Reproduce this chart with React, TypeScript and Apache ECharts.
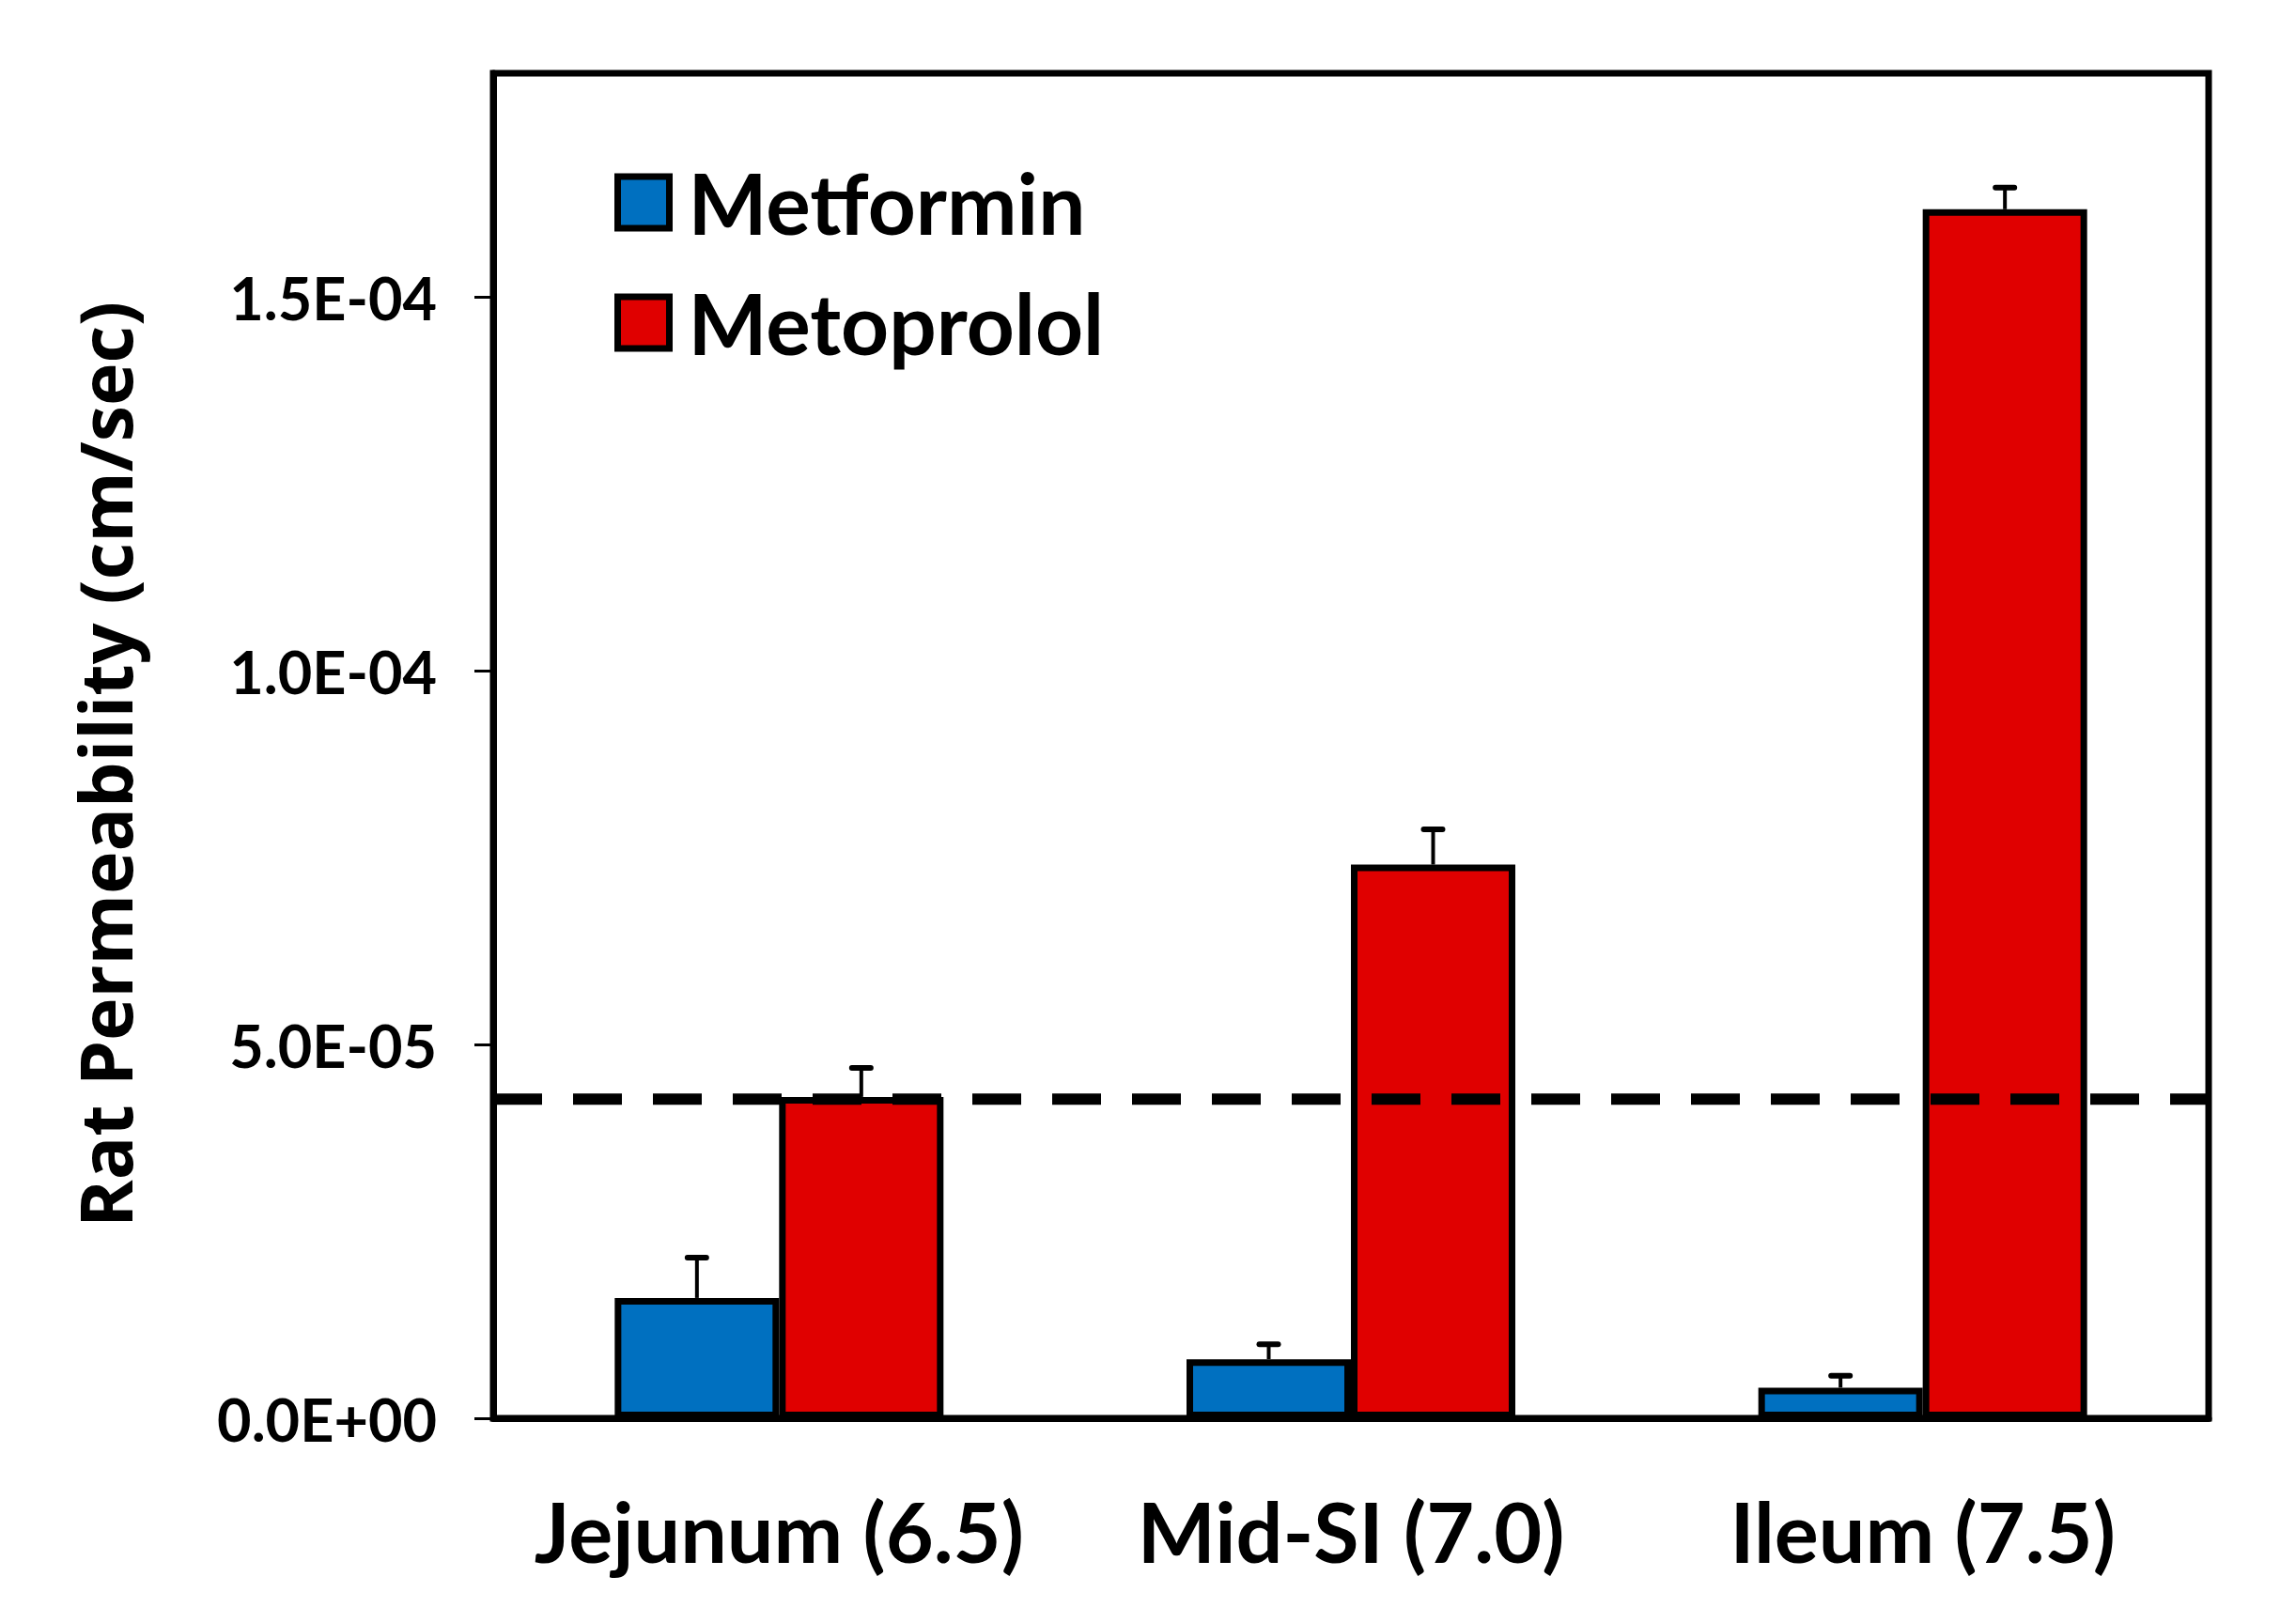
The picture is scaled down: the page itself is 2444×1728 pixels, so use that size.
import React, { useEffect, useRef } from "react";
import * as echarts from "echarts";

const categories = ["Jejunum (6.5)", "Mid-SI (7.0)", "Ileum (7.5)"];
const seriesNames = ["Metformin", "Metoprolol"];
const metforminValues = [1.61e-5, 0.79e-5, 0.41e-5];
const metforminErrors = [0.54e-5, 0.2e-5, 0.16e-5];
const metoprololValues = [4.3e-5, 7.41e-5, 16.18e-5];
const metoprololErrors = [0.39e-5, 0.47e-5, 0.29e-5];
const thresholdValue = 4.27e-5;
const yTicks = [0, 5e-5, 1e-4, 1.5e-4];
const yTitle = "Rat Permeability (cm/sec)";

const BLUE = "#0070C0";
const RED = "#E00000";
const CAT_GAP = 0.425;

function fmtExp(v: number): string {
  if (Math.abs(v) < 1e-12) return "0.0E+00";
  const s = v.toExponential(1).toUpperCase();
  const [m, e] = s.split("E");
  const n = parseInt(e, 10);
  const sign = n < 0 ? "-" : "+";
  const abs = Math.abs(n);
  return m + "E" + sign + (abs < 10 ? "0" + abs : String(abs));
}

function errorSeries(name: string, values: number[], errors: number[], side: number) {
  return {
    type: "custom",
    name: name + " error",
    z: 6,
    data: values.map((v, i) => [i, v, errors[i]]),
    encode: { x: 0, y: 1 },
    renderItem: (params: any, api: any) => {
      const idx = api.value(0);
      const v = api.value(1);
      const e = api.value(2);
      const band = api.size([1, 0])[0];
      const bw = (band * (1 - CAT_GAP)) / 2;
      const cx = api.coord([idx, v])[0] + (side * bw) / 2;
      const y1 = api.coord([idx, v])[1];
      const y2 = api.coord([idx, v + e])[1];
      const capHalf = 10;
      return {
        type: "group",
        children: [
          {
            type: "line",
            shape: { x1: cx, y1: y1, x2: cx, y2: y2 },
            style: { stroke: "#000", lineWidth: 4 },
          },
          {
            type: "line",
            shape: { x1: cx - capHalf, y1: y2, x2: cx + capHalf, y2: y2 },
            style: { stroke: "#000", lineWidth: 6, lineCap: "round" },
          },
        ],
      };
    },
  };
}

export default function App() {
  const ref = useRef<HTMLDivElement>(null);
  useEffect(() => {
    if (!ref.current) return;
    const chart = echarts.init(ref.current, null, { renderer: "svg" });
    chart.setOption({
      animation: false,
      backgroundColor: "#ffffff",
      grid: {
        left: 525,
        right: 93,
        top: 78,
        bottom: 218,
        show: true,
        borderColor: "#000",
        borderWidth: 7,
        backgroundColor: "transparent",
      },
      legend: {
        data: seriesNames,
        orient: "vertical",
        left: 649,
        top: 166,
        itemWidth: 55,
        itemHeight: 55,
        itemGap: 39,
        icon: "rect",
        itemStyle: { borderColor: "#000", borderWidth: 7 },
        textStyle: {
          fontFamily: "Lato",
          fontWeight: "bold",
          fontSize: 89,
          color: "#000",
          padding: [0, 0, 0, 15],
        },
      },
      xAxis: {
        type: "category",
        data: categories,
        axisLine: { show: true, lineStyle: { color: "#000", width: 7 } },
        axisTick: { show: false },
        axisLabel: {
          interval: 0,
          hideOverlap: false,
          margin: 76,
          fontFamily: "Lato",
          fontWeight: "bold",
          fontSize: 88,
          color: "#000",
        },
      },
      yAxis: {
        type: "value",
        min: 0,
        max: 1.8e-4,
        interval: 5e-5,
        splitLine: { show: false },
        axisLine: { show: true, lineStyle: { color: "#000", width: 7 } },
        axisTick: {
          show: true,
          length: 20,
          inside: false,
          lineStyle: { color: "#000", width: 3 },
          customValues: yTicks,
        },
        axisLabel: {
          margin: 60,
          fontFamily: "Lato",
          fontWeight: "bold",
          fontSize: 63,
          color: "#000",
          customValues: yTicks,
          formatter: (v: number) => fmtExp(v),
        },
      },
      graphic: [
        {
          type: "text",
          x: 111,
          y: 814,
          rotation: Math.PI / 2,
          style: {
            text: yTitle,
            fontFamily: "Open Sans",
            fontWeight: "bold",
            fontSize: 77,
            fill: "#000",
            align: "center",
            verticalAlign: "middle",
          },
        },
      ],
      series: [
        {
          type: "bar",
          name: seriesNames[0],
          data: metforminValues,
          barGap: "0%",
          barCategoryGap: CAT_GAP * 100 + "%",
          itemStyle: { color: BLUE, borderColor: "#000", borderWidth: 7 },
          z: 3,
        },
        {
          type: "bar",
          name: seriesNames[1],
          data: metoprololValues,
          barGap: "0%",
          barCategoryGap: CAT_GAP * 100 + "%",
          itemStyle: { color: RED, borderColor: "#000", borderWidth: 7 },
          z: 3,
        },
        {
          type: "custom",
          name: "threshold",
          z: 5,
          data: [[0, thresholdValue]],
          encode: { x: 0, y: 1 },
          renderItem: (params: any, api: any) => {
            const cs = params.coordSys;
            const y = api.coord([0, api.value(1)])[1];
            return {
              type: "line",
              shape: { x1: cs.x, y1: y, x2: cs.x + cs.width, y2: y },
              style: { stroke: "#000", lineWidth: 12, lineDash: [52, 33] },
            };
          },
        },
        errorSeries(seriesNames[0], metforminValues, metforminErrors, -1),
        errorSeries(seriesNames[1], metoprololValues, metoprololErrors, 1),
      ],
    });
    return () => chart.dispose();
  }, []);
  return (
    <div
      ref={ref}
      style={{ position: "fixed", left: 0, top: 0, width: 2444, height: 1728, background: "#fff" }}
    />
  );
}
